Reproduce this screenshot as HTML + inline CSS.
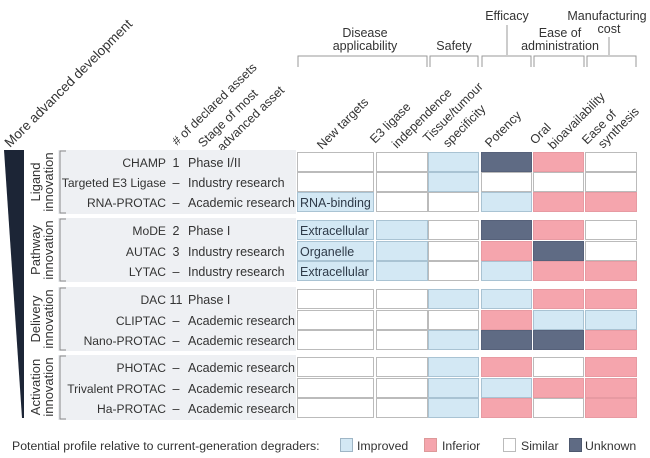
<!DOCTYPE html>
<html><head><meta charset="utf-8"><style>
html,body{margin:0;padding:0;background:#fff}
svg{display:block;font-family:"Liberation Sans",sans-serif}
</style></head><body>
<svg width="650" height="458" viewBox="0 0 650 458" xmlns="http://www.w3.org/2000/svg">
<g fill="#333" font-size="12.5">
<text x="365" y="37" text-anchor="middle">Disease</text>
<text x="365" y="50" text-anchor="middle">applicability</text>
<text x="454" y="50" text-anchor="middle">Safety</text>
<text x="507" y="20" text-anchor="middle">Efficacy</text>
<text x="560" y="37" text-anchor="middle">Ease of</text>
<text x="560" y="50" text-anchor="middle">administration</text>
<text x="607" y="20" text-anchor="middle">Manufacturing</text>
<text x="609" y="33" text-anchor="middle">cost</text>
</g>
<g stroke="#999" fill="none" stroke-width="1">
<path d="M507 25V55M609 37V55"/>
<path d="M298 67V56H427V67"/>
<path d="M430 67V56H478V67"/>
<path d="M482 67V56H531V67"/>
<path d="M534 67V56H584V67"/>
<path d="M587 67V56H636V67"/>
</g>
<g fill="#333" font-size="12.5">
<text transform="translate(10,148) rotate(-45)" font-size="13.5">More advanced development</text>
<text transform="translate(177,146) rotate(-44)"># of declared assets</text>
<text transform="translate(203,148) rotate(-44)">Stage of most</text>
<text transform="translate(222,152) rotate(-44)">advanced asset</text>
<text transform="translate(322,150) rotate(-45)">New targets</text>
<text transform="translate(375,144) rotate(-45)">E3 ligase</text>
<text transform="translate(397,149) rotate(-45)">independence</text>
<text transform="translate(428,143) rotate(-45)">Tissue/tumour</text>
<text transform="translate(448,148) rotate(-45)">specificity</text>
<text transform="translate(490,148) rotate(-45)">Potency</text>
<text transform="translate(535,145) rotate(-45)">Oral</text>
<text transform="translate(553,150) rotate(-45)">bioavailability</text>
<text transform="translate(587,145) rotate(-45)">Ease of</text>
<text transform="translate(603,149) rotate(-45)">synthesis</text>
</g>
<path d="M4 150H24V418H22Z" fill="#1c2536"/>
<g fill="#eef0f3">
<rect x="58" y="150" width="238" height="64"/>
<rect x="58" y="218" width="238" height="64"/>
<rect x="58" y="287" width="238" height="64"/>
<rect x="58" y="355" width="238" height="65"/>
</g>
<g stroke="#888" fill="none">
<path d="M66 151H60V213H66"/>
<path d="M66 219H60V281H66"/>
<path d="M66 288H60V350H66"/>
<path d="M66 356H60V419H66"/>
</g>
<g fill="#333" font-size="13" text-anchor="middle">
<text transform="translate(40,182) rotate(-90)">Ligand</text>
<text transform="translate(53,182) rotate(-90)">innovation</text>
<text transform="translate(40,250) rotate(-90)">Pathway</text>
<text transform="translate(53,250) rotate(-90)">innovation</text>
<text transform="translate(40,319) rotate(-90)">Delivery</text>
<text transform="translate(53,319) rotate(-90)">innovation</text>
<text transform="translate(40,387) rotate(-90)">Activation</text>
<text transform="translate(53,387) rotate(-90)">innovation</text>
</g>
<g fill="#333" font-size="12.5">
<g text-anchor="end" font-size="12.1">
<text x="166" y="167">CHAMP</text><text x="166" y="187">Targeted E3 Ligase</text><text x="166" y="207">RNA-PROTAC</text>
<text x="166" y="235">MoDE</text><text x="166" y="256">AUTAC</text><text x="166" y="276">LYTAC</text>
<text x="166" y="304">DAC</text><text x="166" y="325">CLIPTAC</text><text x="166" y="345">Nano-PROTAC</text>
<text x="166" y="372">PHOTAC</text><text x="166" y="393">Trivalent PROTAC</text><text x="166" y="413">Ha-PROTAC</text>
</g>
<g text-anchor="middle">
<text x="176" y="167">1</text><text x="176" y="187">–</text><text x="176" y="207">–</text>
<text x="176" y="235">2</text><text x="176" y="256">3</text><text x="176" y="276">–</text>
<text x="176" y="304">11</text><text x="176" y="325">–</text><text x="176" y="345">–</text>
<text x="176" y="372">–</text><text x="176" y="393">–</text><text x="176" y="413">–</text>
</g>
<text x="188" y="167">Phase I/II</text><text x="188" y="187">Industry research</text><text x="188" y="207">Academic research</text>
<text x="188" y="235">Phase I</text><text x="188" y="256">Industry research</text><text x="188" y="276">Industry research</text>
<text x="188" y="304">Phase I</text><text x="188" y="325">Academic research</text><text x="188" y="345">Academic research</text>
<text x="188" y="372">Academic research</text><text x="188" y="393">Academic research</text><text x="188" y="413">Academic research</text>
</g>
<g>
<rect x="297.5" y="152.5" width="76" height="19" fill="#fff" stroke="#bbb"/>
<rect x="376.5" y="152.5" width="51" height="19" fill="#fff" stroke="#bbb"/>
<rect x="428.5" y="152.5" width="50" height="19" fill="#d3e8f4" stroke="#a9c3d3"/>
<rect x="481.5" y="152.5" width="50" height="19" fill="#5f6b84" stroke="#56617a"/>
<rect x="533.5" y="152.5" width="50" height="19" fill="#f5a5ad" stroke="#e79aa2"/>
<rect x="585.5" y="152.5" width="51" height="19" fill="#fff" stroke="#bbb"/>
<rect x="297.5" y="172.5" width="76" height="19" fill="#fff" stroke="#bbb"/>
<rect x="376.5" y="172.5" width="51" height="19" fill="#fff" stroke="#bbb"/>
<rect x="428.5" y="172.5" width="50" height="19" fill="#d3e8f4" stroke="#a9c3d3"/>
<rect x="481.5" y="172.5" width="50" height="19" fill="#fff" stroke="#bbb"/>
<rect x="533.5" y="172.5" width="50" height="19" fill="#fff" stroke="#bbb"/>
<rect x="585.5" y="172.5" width="51" height="19" fill="#fff" stroke="#bbb"/>
<rect x="297.5" y="192.5" width="76" height="19" fill="#d3e8f4" stroke="#a9c3d3"/>
<rect x="376.5" y="192.5" width="51" height="19" fill="#fff" stroke="#bbb"/>
<rect x="428.5" y="192.5" width="50" height="19" fill="#fff" stroke="#bbb"/>
<rect x="481.5" y="192.5" width="50" height="19" fill="#d3e8f4" stroke="#a9c3d3"/>
<rect x="533.5" y="192.5" width="50" height="19" fill="#f5a5ad" stroke="#e79aa2"/>
<rect x="585.5" y="192.5" width="51" height="19" fill="#f5a5ad" stroke="#e79aa2"/>
<rect x="297.5" y="220.5" width="76" height="19" fill="#d3e8f4" stroke="#a9c3d3"/>
<rect x="376.5" y="220.5" width="51" height="19" fill="#d3e8f4" stroke="#a9c3d3"/>
<rect x="428.5" y="220.5" width="50" height="19" fill="#fff" stroke="#bbb"/>
<rect x="481.5" y="220.5" width="50" height="19" fill="#5f6b84" stroke="#56617a"/>
<rect x="533.5" y="220.5" width="50" height="19" fill="#f5a5ad" stroke="#e79aa2"/>
<rect x="585.5" y="220.5" width="51" height="19" fill="#fff" stroke="#bbb"/>
<rect x="297.5" y="241.5" width="76" height="19" fill="#d3e8f4" stroke="#a9c3d3"/>
<rect x="376.5" y="241.5" width="51" height="19" fill="#d3e8f4" stroke="#a9c3d3"/>
<rect x="428.5" y="241.5" width="50" height="19" fill="#fff" stroke="#bbb"/>
<rect x="481.5" y="241.5" width="50" height="19" fill="#f5a5ad" stroke="#e79aa2"/>
<rect x="533.5" y="241.5" width="50" height="19" fill="#5f6b84" stroke="#56617a"/>
<rect x="585.5" y="241.5" width="51" height="19" fill="#fff" stroke="#bbb"/>
<rect x="297.5" y="261.5" width="76" height="19" fill="#d3e8f4" stroke="#a9c3d3"/>
<rect x="376.5" y="261.5" width="51" height="19" fill="#d3e8f4" stroke="#a9c3d3"/>
<rect x="428.5" y="261.5" width="50" height="19" fill="#fff" stroke="#bbb"/>
<rect x="481.5" y="261.5" width="50" height="19" fill="#d3e8f4" stroke="#a9c3d3"/>
<rect x="533.5" y="261.5" width="50" height="19" fill="#f5a5ad" stroke="#e79aa2"/>
<rect x="585.5" y="261.5" width="51" height="19" fill="#f5a5ad" stroke="#e79aa2"/>
<rect x="297.5" y="289.5" width="76" height="19" fill="#fff" stroke="#bbb"/>
<rect x="376.5" y="289.5" width="51" height="19" fill="#fff" stroke="#bbb"/>
<rect x="428.5" y="289.5" width="50" height="19" fill="#d3e8f4" stroke="#a9c3d3"/>
<rect x="481.5" y="289.5" width="50" height="19" fill="#d3e8f4" stroke="#a9c3d3"/>
<rect x="533.5" y="289.5" width="50" height="19" fill="#f5a5ad" stroke="#e79aa2"/>
<rect x="585.5" y="289.5" width="51" height="19" fill="#f5a5ad" stroke="#e79aa2"/>
<rect x="297.5" y="310.5" width="76" height="19" fill="#fff" stroke="#bbb"/>
<rect x="376.5" y="310.5" width="51" height="19" fill="#fff" stroke="#bbb"/>
<rect x="428.5" y="310.5" width="50" height="19" fill="#fff" stroke="#bbb"/>
<rect x="481.5" y="310.5" width="50" height="19" fill="#f5a5ad" stroke="#e79aa2"/>
<rect x="533.5" y="310.5" width="50" height="19" fill="#d3e8f4" stroke="#a9c3d3"/>
<rect x="585.5" y="310.5" width="51" height="19" fill="#d3e8f4" stroke="#a9c3d3"/>
<rect x="297.5" y="330.5" width="76" height="19" fill="#fff" stroke="#bbb"/>
<rect x="376.5" y="330.5" width="51" height="19" fill="#fff" stroke="#bbb"/>
<rect x="428.5" y="330.5" width="50" height="19" fill="#d3e8f4" stroke="#a9c3d3"/>
<rect x="481.5" y="330.5" width="50" height="19" fill="#5f6b84" stroke="#56617a"/>
<rect x="533.5" y="330.5" width="50" height="19" fill="#5f6b84" stroke="#56617a"/>
<rect x="585.5" y="330.5" width="51" height="19" fill="#f5a5ad" stroke="#e79aa2"/>
<rect x="297.5" y="357.5" width="76" height="19" fill="#fff" stroke="#bbb"/>
<rect x="376.5" y="357.5" width="51" height="19" fill="#fff" stroke="#bbb"/>
<rect x="428.5" y="357.5" width="50" height="19" fill="#d3e8f4" stroke="#a9c3d3"/>
<rect x="481.5" y="357.5" width="50" height="19" fill="#f5a5ad" stroke="#e79aa2"/>
<rect x="533.5" y="357.5" width="50" height="19" fill="#fff" stroke="#bbb"/>
<rect x="585.5" y="357.5" width="51" height="19" fill="#f5a5ad" stroke="#e79aa2"/>
<rect x="297.5" y="378.5" width="76" height="19" fill="#fff" stroke="#bbb"/>
<rect x="376.5" y="378.5" width="51" height="19" fill="#fff" stroke="#bbb"/>
<rect x="428.5" y="378.5" width="50" height="19" fill="#d3e8f4" stroke="#a9c3d3"/>
<rect x="481.5" y="378.5" width="50" height="19" fill="#d3e8f4" stroke="#a9c3d3"/>
<rect x="533.5" y="378.5" width="50" height="19" fill="#f5a5ad" stroke="#e79aa2"/>
<rect x="585.5" y="378.5" width="51" height="19" fill="#f5a5ad" stroke="#e79aa2"/>
<rect x="297.5" y="398.5" width="76" height="19" fill="#fff" stroke="#bbb"/>
<rect x="376.5" y="398.5" width="51" height="19" fill="#fff" stroke="#bbb"/>
<rect x="428.5" y="398.5" width="50" height="19" fill="#d3e8f4" stroke="#a9c3d3"/>
<rect x="481.5" y="398.5" width="50" height="19" fill="#f5a5ad" stroke="#e79aa2"/>
<rect x="533.5" y="398.5" width="50" height="19" fill="#fff" stroke="#bbb"/>
<rect x="585.5" y="398.5" width="51" height="19" fill="#f5a5ad" stroke="#e79aa2"/>
</g>
<g font-size="12.5" fill="#2e3a48">
<text x="300" y="207">RNA-binding</text>
<text x="300" y="235">Extracellular</text>
<text x="300" y="256">Organelle</text>
<text x="300" y="276">Extracellular</text>
</g>
<g font-size="12.3" fill="#333">
<text x="12" y="450">Potential profile relative to current-generation degraders:</text>
<rect x="340.5" y="438.5" width="12" height="13" fill="#d3e8f4" stroke="#9fb6c6"/>
<text x="357" y="450">Improved</text>
<rect x="424.5" y="438.5" width="12" height="13" fill="#f5a5ad" stroke="#d99"/>
<text x="442" y="450">Inferior</text>
<rect x="503.5" y="438.5" width="12" height="13" fill="#fff" stroke="#bbb"/>
<text x="521" y="450">Similar</text>
<rect x="569.5" y="438.5" width="12" height="13" fill="#5f6b84" stroke="#4d586e"/>
<text x="585" y="450">Unknown</text>
</g>
</svg>
</body></html>
